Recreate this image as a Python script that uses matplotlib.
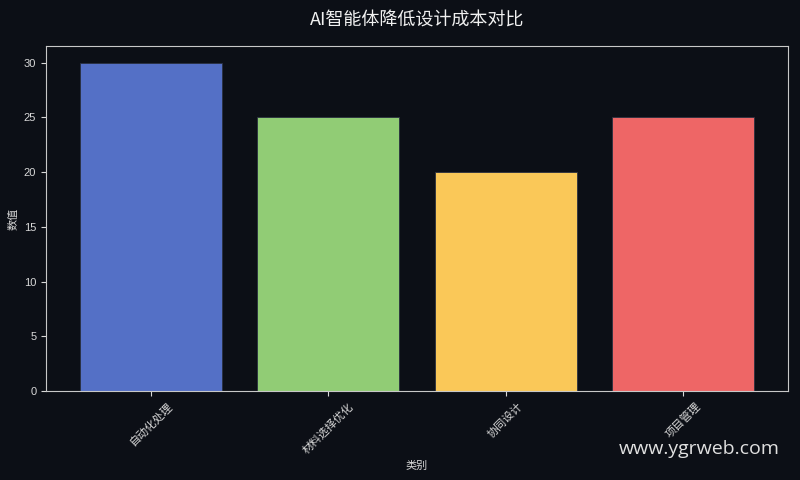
import matplotlib.pyplot as plt

plt.rcParams['font.family'] = ['Liberation Sans', 'Noto Sans CJK SC', 'DejaVu Sans']

# data
categories = ['自动化处理', '材料选择优化', '协同设计', '项目管理']
values = [30, 25, 20, 25]
colors = ['#5470c6', '#91cc75', '#fac858', '#ee6666']

bg = '#0c0f16'
fg = '#d8d8d8'

fig = plt.figure(figsize=(8, 4.8), dpi=100, facecolor=bg)
ax = fig.add_axes([0.0575, 0.185, 0.9275, 0.719])
ax.set_facecolor(bg)

ax.bar(categories, values, color=colors, width=0.8, edgecolor='#2a3040', linewidth=0.6)

ax.set_title('AI智能体降低设计成本对比', color='#f0f0f0', fontsize=13, pad=15,
             family=['Noto Sans CJK SC', 'DejaVu Sans'])
ax.set_xlabel('类别', color=fg, fontsize=8)
ax.set_ylabel('数值', color=fg, fontsize=8)
ax.tick_params(colors=fg, labelsize=8)
plt.setp(ax.get_xticklabels(), rotation=45)
for s in ax.spines.values():
    s.set_color('#c8c8c8')

fig.text(0.975, 0.045, 'www.ygrweb.com', color='#e0e0e0', fontsize=14,
         ha='right', va='bottom', family=['Open Sans', 'DejaVu Sans'])

fig.savefig('out.png', facecolor=bg)
